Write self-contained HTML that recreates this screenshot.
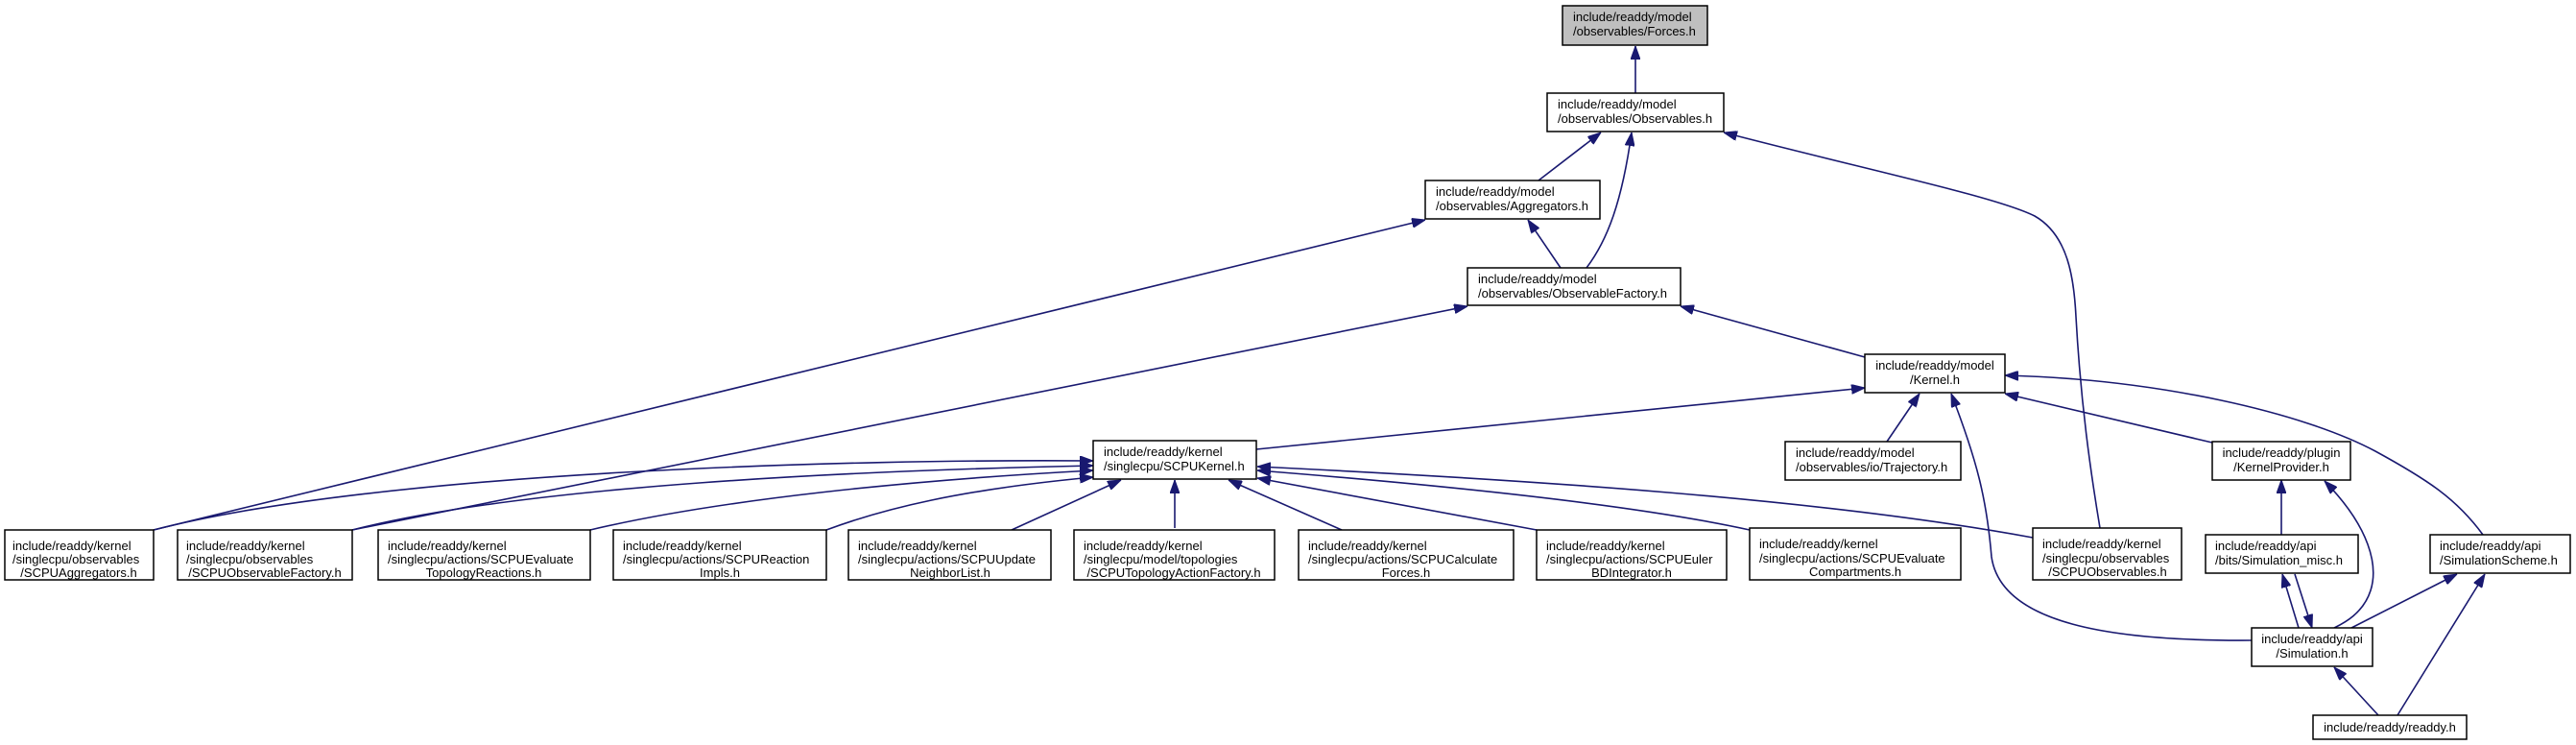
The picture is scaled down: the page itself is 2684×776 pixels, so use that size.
<!DOCTYPE html>
<html><head><meta charset="utf-8"><style>
html,body{margin:0;padding:0;background:#fff;}
svg{display:block;}
text{font-family:"Liberation Sans",sans-serif;font-size:13px;fill:#000;}
rect{fill:#fff;stroke:#000;stroke-width:1.5;}
path.e{fill:none;stroke:#191970;stroke-width:1.6;}
</style></head><body>
<svg width="2684" height="776" viewBox="0 0 2684 776" xmlns="http://www.w3.org/2000/svg">
<defs>
<marker id="a" viewBox="0 0 14 10" refX="14" refY="5" markerWidth="14" markerHeight="10" markerUnits="userSpaceOnUse" orient="auto-start-reverse">
<path d="M0,0 L14,5 L0,10 z" style="fill:#191970;stroke:#191970;stroke-width:1"/>
</marker>
</defs>
<g marker-start="url(#a)">
<path class="e" d="M1704,48 L1704,97"/>
<path class="e" d="M1668,138 L1603,188"/>
<path class="e" d="M1700,138 C1690,210 1675,250 1653,279"/>
<path class="e" d="M1592,229 L1626,279"/>
<path class="e" d="M1796,138 C1950,178 2080,205 2120,225 C2155,245 2161,290 2163,330 C2168,420 2178,490 2188,550"/>
<path class="e" d="M1485,229 L160,552"/>
<path class="e" d="M1529,319 L367,552"/>
<path class="e" d="M1751,319 L1943,372"/>
<path class="e" d="M1943,404 L1309,468"/>
<path class="e" d="M2000,410 L1966,460"/>
<path class="e" d="M2033,410 C2060,480 2070,520 2075,580 C2085,650 2200,668 2346,667"/>
<path class="e" d="M2089,410 L2305,461"/>
<path class="e" d="M2089,391 C2250,395 2400,430 2475,470 C2530,500 2560,520 2587,557"/>
<path class="e" d="M2377,500 L2377,557"/>
<path class="e" d="M2422,501 C2470,550 2478,590 2470,615 C2462,640 2440,650 2432,654"/>
<path class="e" d="M2378,598 L2395,654"/>
<path class="e" d="M2409,654 L2391,598"/>
<path class="e" d="M2560,598 L2450,654"/>
<path class="e" d="M2432,695 L2478,745"/>
<path class="e" d="M2589,598 L2498,745"/>
<path class="e" d="M1139,480 C900,478 400,490 160,552"/>
<path class="e" d="M1139,485 C900,490 550,505 367,552"/>
<path class="e" d="M1139,490 C950,500 750,520 615,552"/>
<path class="e" d="M1139,497 C1000,510 920,530 861,552"/>
<path class="e" d="M1168,500 L1054,552"/>
<path class="e" d="M1224,500 L1224,550"/>
<path class="e" d="M1280,500 L1398,552"/>
<path class="e" d="M1310,498 L1601,552"/>
<path class="e" d="M1310,490 C1500,505 1700,525 1823,552"/>
<path class="e" d="M1310,486 C1600,500 1900,520 2118,560"/>
</g>
<rect x="1628" y="6" width="151" height="41" style="fill:#bfbfbf"/>
<text x="1639" y="22">include/readdy/model</text><text x="1639" y="37">/observables/Forces.h</text>
<rect x="1612" y="97" width="184" height="40"/>
<text x="1623" y="113">include/readdy/model</text><text x="1623" y="128">/observables/Observables.h</text>
<rect x="1485" y="188" width="182" height="40"/>
<text x="1496" y="204">include/readdy/model</text><text x="1496" y="219">/observables/Aggregators.h</text>
<rect x="1529" y="279" width="222" height="39"/>
<text x="1540" y="295">include/readdy/model</text><text x="1540" y="310">/observables/ObservableFactory.h</text>
<rect x="1943" y="369" width="146" height="40"/>
<text x="2016" y="385" text-anchor="middle">include/readdy/model</text><text x="2016" y="400" text-anchor="middle">/Kernel.h</text>
<rect x="1139" y="459" width="170" height="40"/>
<text x="1150" y="475">include/readdy/kernel</text><text x="1150" y="490">/singlecpu/SCPUKernel.h</text>
<rect x="1860" y="460" width="183" height="40"/>
<text x="1871" y="476">include/readdy/model</text><text x="1871" y="491">/observables/io/Trajectory.h</text>
<rect x="2305" y="460" width="144" height="40"/>
<text x="2377" y="476" text-anchor="middle">include/readdy/plugin</text><text x="2377" y="491" text-anchor="middle">/KernelProvider.h</text>
<rect x="2298" y="557" width="159" height="40"/>
<text x="2308" y="573">include/readdy/api</text><text x="2308" y="588">/bits/Simulation_misc.h</text>
<rect x="2532" y="557" width="146" height="40"/>
<text x="2542" y="573">include/readdy/api</text><text x="2542" y="588">/SimulationScheme.h</text>
<rect x="2346" y="654" width="126" height="40"/>
<text x="2409" y="670" text-anchor="middle">include/readdy/api</text><text x="2409" y="685" text-anchor="middle">/Simulation.h</text>
<rect x="2410" y="745" width="160" height="25"/>
<text x="2490" y="762" text-anchor="middle">include/readdy/readdy.h</text>
<rect x="5" y="552" width="155" height="52"/>
<text x="13" y="573">include/readdy/kernel</text><text x="13" y="587">/singlecpu/observables</text><text x="82" y="601" text-anchor="middle">/SCPUAggregators.h</text>
<rect x="185" y="552" width="182" height="52"/>
<text x="194" y="573">include/readdy/kernel</text><text x="194" y="587">/singlecpu/observables</text><text x="276" y="601" text-anchor="middle">/SCPUObservableFactory.h</text>
<rect x="394" y="552" width="221" height="52"/>
<text x="404" y="573">include/readdy/kernel</text><text x="404" y="587">/singlecpu/actions/SCPUEvaluate</text><text x="504" y="601" text-anchor="middle">TopologyReactions.h</text>
<rect x="639" y="552" width="222" height="52"/>
<text x="649" y="573">include/readdy/kernel</text><text x="649" y="587">/singlecpu/actions/SCPUReaction</text><text x="750" y="601" text-anchor="middle">Impls.h</text>
<rect x="884" y="552" width="211" height="52"/>
<text x="894" y="573">include/readdy/kernel</text><text x="894" y="587">/singlecpu/actions/SCPUUpdate</text><text x="990" y="601" text-anchor="middle">NeighborList.h</text>
<rect x="1119" y="552" width="209" height="52"/>
<text x="1129" y="573">include/readdy/kernel</text><text x="1129" y="587">/singlecpu/model/topologies</text><text x="1223" y="601" text-anchor="middle">/SCPUTopologyActionFactory.h</text>
<rect x="1353" y="552" width="224" height="52"/>
<text x="1363" y="573">include/readdy/kernel</text><text x="1363" y="587">/singlecpu/actions/SCPUCalculate</text><text x="1465" y="601" text-anchor="middle">Forces.h</text>
<rect x="1601" y="552" width="198" height="52"/>
<text x="1611" y="573">include/readdy/kernel</text><text x="1611" y="587">/singlecpu/actions/SCPUEuler</text><text x="1700" y="601" text-anchor="middle">BDIntegrator.h</text>
<rect x="1823" y="550" width="220" height="54"/>
<text x="1833" y="571">include/readdy/kernel</text><text x="1833" y="586">/singlecpu/actions/SCPUEvaluate</text><text x="1933" y="600" text-anchor="middle">Compartments.h</text>
<rect x="2118" y="550" width="155" height="54"/>
<text x="2128" y="571">include/readdy/kernel</text><text x="2128" y="586">/singlecpu/observables</text><text x="2196" y="600" text-anchor="middle">/SCPUObservables.h</text>
</svg>
</body></html>
